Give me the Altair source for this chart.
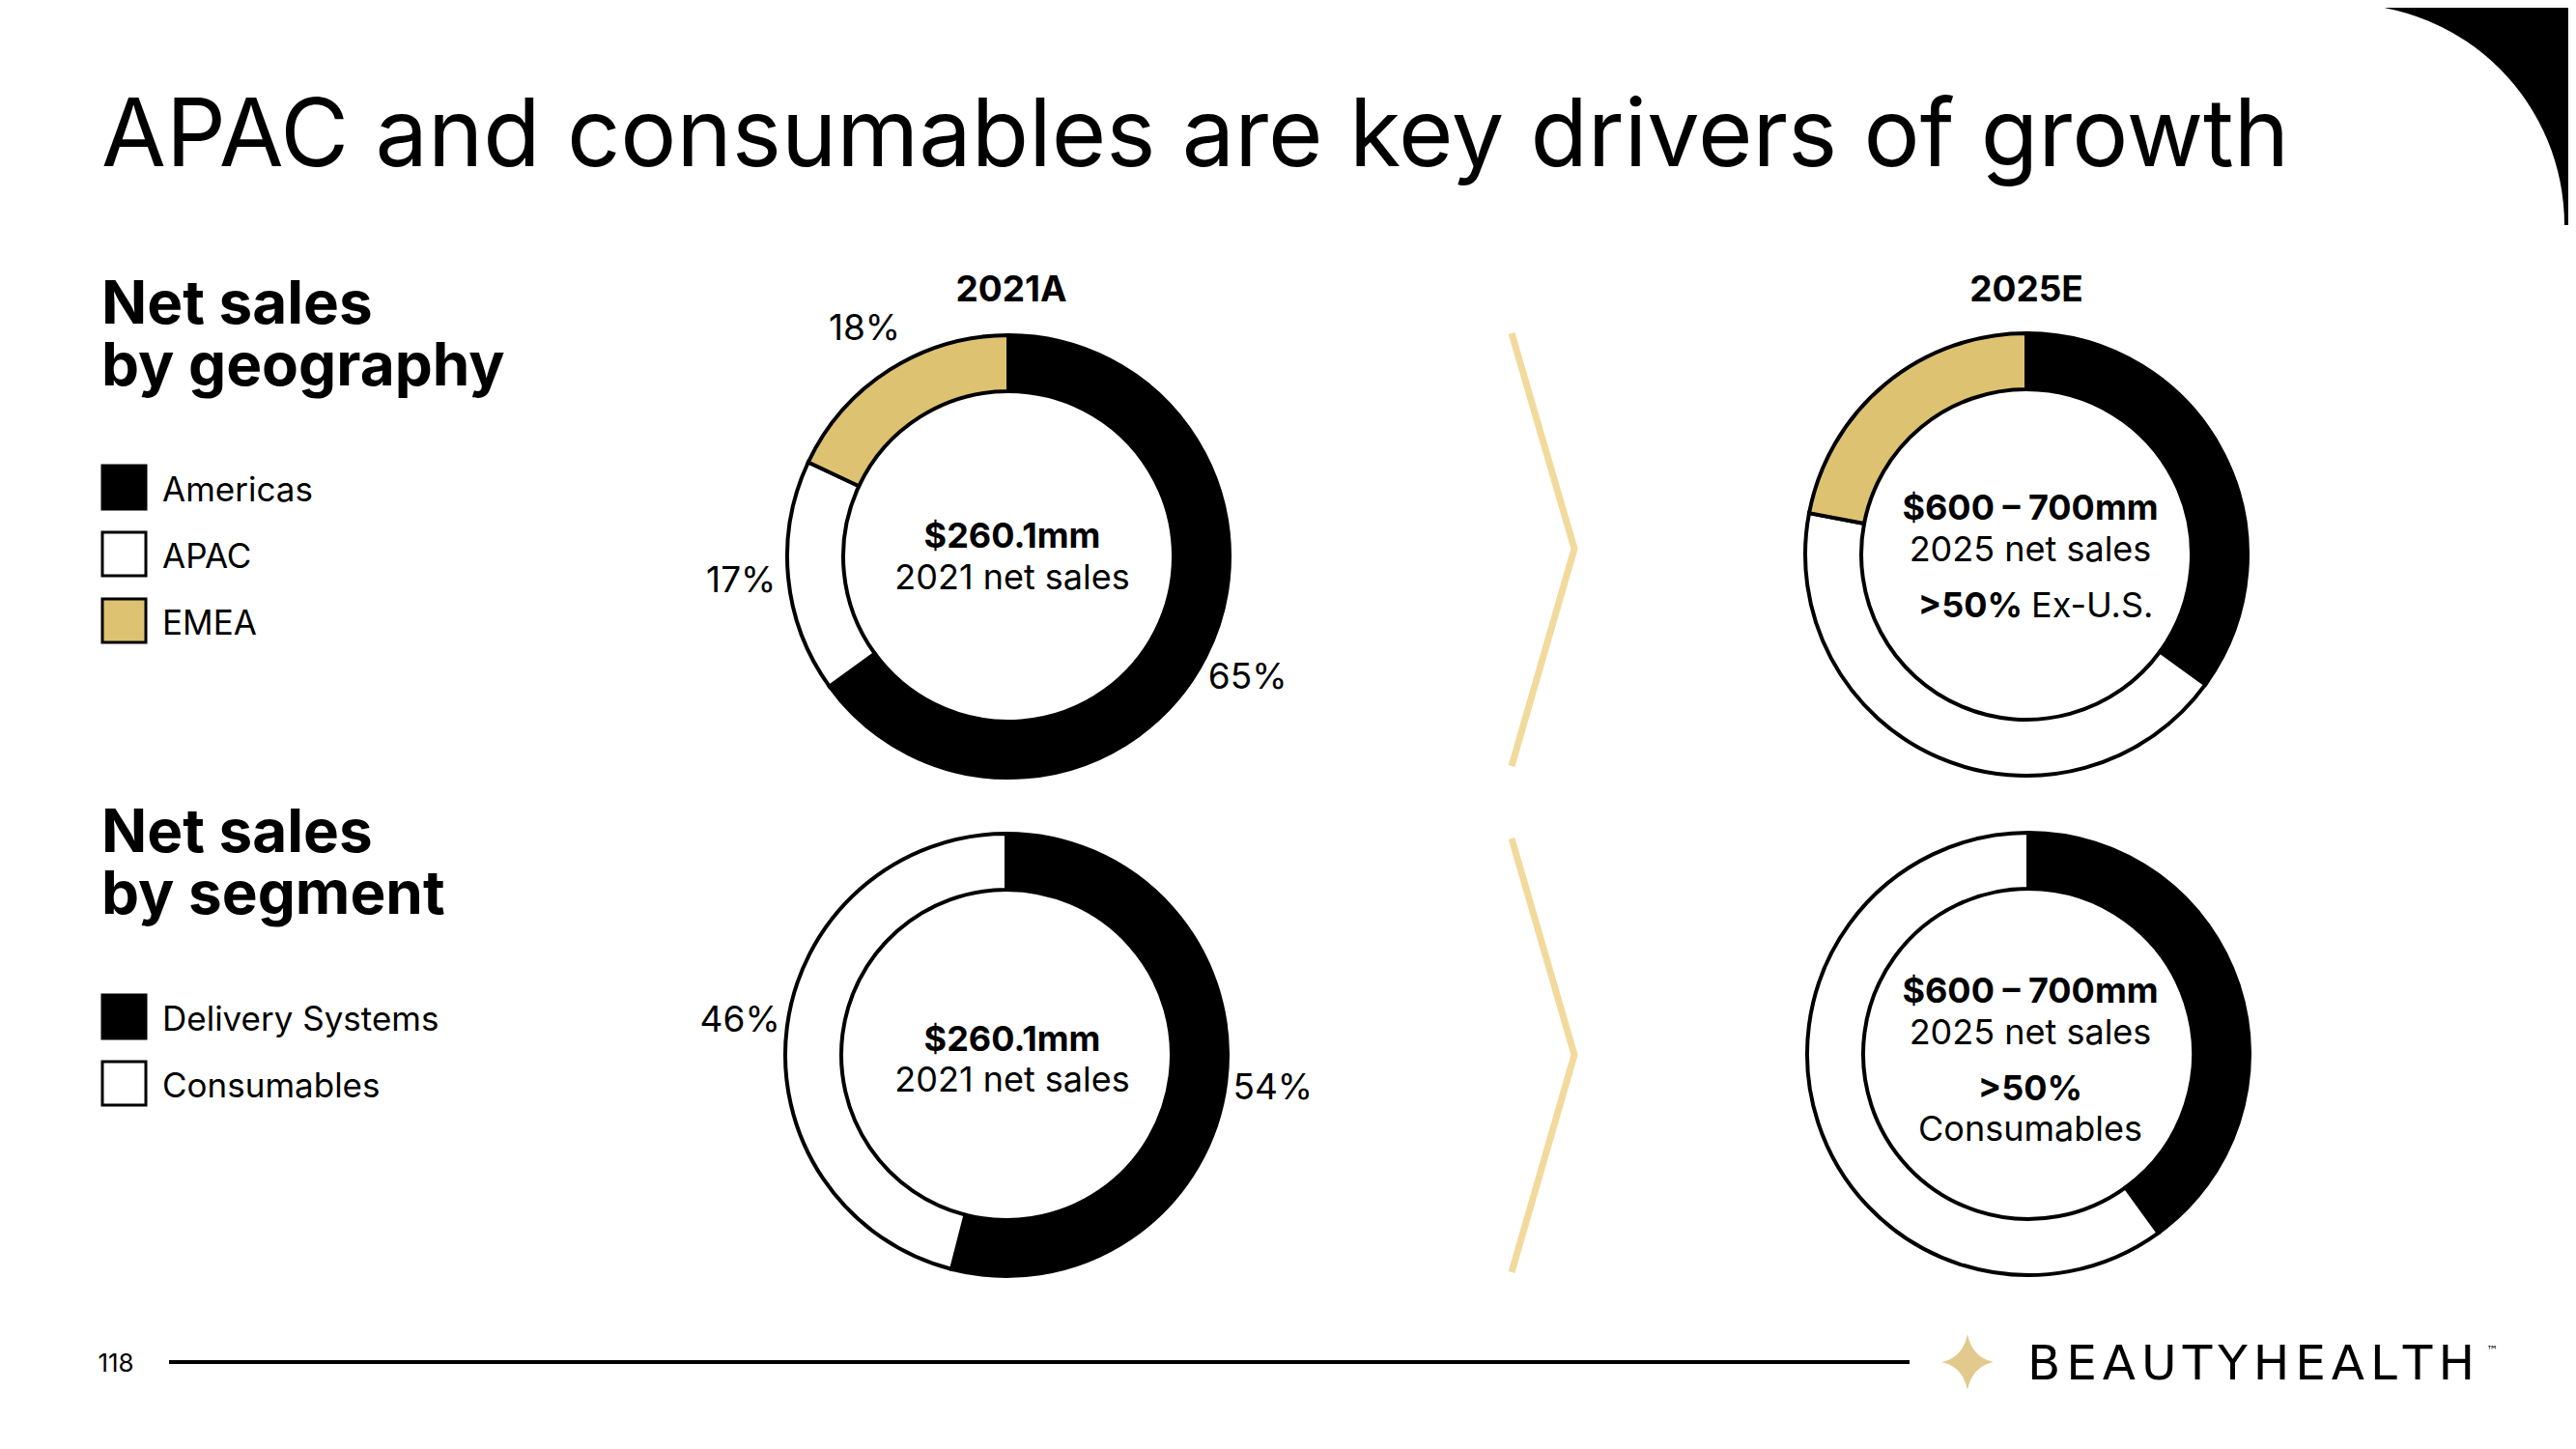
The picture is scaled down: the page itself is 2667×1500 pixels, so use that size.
import math
import altair as alt
import pandas as pd

# ---------------- data ----------------
TITLE = "APAC and consumables are key drivers of growth"
PERIODS = ["2021A", "2025E"]

GEO_CATS = ["Americas", "APAC", "EMEA"]
GEO_2021 = [65, 17, 18]
GEO_2025 = [35, 43, 22]
GEO_2021_LABELS = ["65%", "17%", "18%"]

SEG_CATS = ["Delivery Systems", "Consumables"]
SEG_2021 = [54, 46]
SEG_2025 = [40, 60]
SEG_2021_LABELS = ["54%", "46%"]

SECTION_GEO = ["Net sales", "by geography"]
SECTION_SEG = ["Net sales", "by segment"]

CENTER_2021 = ["$260.1mm", "2021 net sales"]
CENTER_2025 = ["$600 \u2013 700mm", "2025 net sales"]
NOTE_2025_GEO = [">50%", "Ex-U.S."]
NOTE_2025_SEG = [">50%", "Consumables"]

PAGE_NUMBER = "118"
BRAND = "BEAUTYHEALTH"
TM = "\u2122"

# ---------------- layout / style ----------------
M = 8                      # page margin
W, H = 2651, 1480          # drawing area
FONT = "Inter"
BLACK = "#000000"
WHITE = "#FFFFFF"
GOLD = "#DDC272"
CHEVRON = "#F2DA9D"
STAR = "#E2C98C"

XS = alt.Scale(domain=[M, M + W], range=[0, W], zero=False, nice=False)
YS = alt.Scale(domain=[M, M + H], range=[0, H], zero=False, nice=False)
COLOR = alt.Scale(domain=GEO_CATS + SEG_CATS, range=[BLACK, WHITE, GOLD, BLACK, WHITE])

R_OUT, R_IN, R_LABEL = 229, 171, 278


def X(f="x"):
    return alt.X(f"{f}:Q", scale=XS, axis=None)


def Y(f="y"):
    return alt.Y(f"{f}:Q", scale=YS, axis=None)


def text_layer(rows, size, weight="normal", align="left", baseline="middle", color=BLACK, font=FONT, **kw):
    df = pd.DataFrame(rows, columns=["text", "x", "y"])
    return alt.Chart(df).mark_text(
        font=font, fontSize=size, fontWeight=weight, align=align, baseline=baseline, color=color, **kw
    ).encode(x=X(), y=Y(), text="text:N")


layers = []

# top-right corner decoration: black corner minus a white quarter disc
corner_cx, corner_cy, corner_r = 2426, 233, 229
layers.append(
    alt.Chart(pd.DataFrame({"x": [corner_cx], "x2": [M + W], "y": [M], "y2": [corner_cy]}))
    .mark_rect(color=BLACK)
    .encode(x=X(), x2="x2:Q", y=Y(), y2="y2:Q")
)
layers.append(
    alt.Chart(pd.DataFrame({"k": [0]}))
    .mark_arc(theta=0, theta2=math.pi / 2, innerRadius=0, outerRadius=corner_r, color=WHITE)
    .encode(x=alt.value(corner_cx - M), y=alt.value(corner_cy - M))
)

# title
layers.append(text_layer([(TITLE, 105, 172)], 97, baseline="alphabetic"))

# section headings (two lines each)
layers.append(text_layer([("\n".join(SECTION_GEO), 105, 335), ("\n".join(SECTION_SEG), 105, 882)],
                         62, weight="bold", baseline="alphabetic", lineBreak="\n", lineHeight=64))


# legends
def legend(cats, top0, step=69, size=45):
    df = pd.DataFrame({"cat": cats})
    df["y"] = [top0 + i * step for i in range(len(cats))]
    df["y2"] = df["y"] + size
    df["x"] = 106
    df["x2"] = 106 + size
    df["tx"] = 168
    df["ty"] = df["y"] + size / 2 + 3
    boxes = alt.Chart(df).mark_rect(stroke=BLACK, strokeWidth=3).encode(
        x=X(), x2="x2:Q", y=Y(), y2="y2:Q",
        color=alt.Color("cat:N", scale=COLOR, legend=None))
    labels = alt.Chart(df).mark_text(font=FONT, fontSize=35, align="left", baseline="middle", color=BLACK).encode(
        x=X("tx"), y=Y("ty"), text="cat:N")
    return [boxes, labels]


layers += legend(GEO_CATS, 482)
layers += legend(SEG_CATS, 1030)

# period headers
layers.append(text_layer([(PERIODS[0], 1047, 301), (PERIODS[1], 2098, 301)], 37, weight="bold", align="center"))

# chevrons
chev = pd.DataFrame({
    "grp": ["a"] * 3 + ["b"] * 3,
    "i": [0, 1, 2] * 2,
    "x": [1565, 1630, 1565, 1565, 1630, 1565],
    "y": [345, 568, 793, 868, 1092, 1317],
})
layers.append(alt.Chart(chev).mark_line(color=CHEVRON, strokeWidth=7, strokeJoin="miter", strokeCap="butt").encode(
    x=X(), y=Y(), detail="grp:N", order="i:Q"))


# donuts
def donut(cats, vals, labels, cx, cy):
    df = pd.DataFrame({"cat": cats, "share": vals, "idx": list(range(len(cats)))})
    if labels:
        df["label"] = labels
    base = alt.Chart(df).encode(
        theta=alt.Theta("share:Q", stack=True),
        order=alt.Order("idx:Q"),
        x=alt.value(cx - M), y=alt.value(cy - M))
    out = [base.mark_arc(innerRadius=R_IN, outerRadius=R_OUT, stroke=BLACK, strokeWidth=4).encode(
        color=alt.Color("cat:N", scale=COLOR, legend=None))]
    if labels:
        out.append(base.mark_text(radius=R_LABEL, font=FONT, fontSize=37, color=BLACK).encode(text="label:N"))
    return out


layers += donut(GEO_CATS, GEO_2021, GEO_2021_LABELS, 1044, 576)
layers += donut(GEO_CATS, GEO_2025, None, 2098, 574)
layers += donut(SEG_CATS, SEG_2021, SEG_2021_LABELS, 1042, 1092)
layers += donut(SEG_CATS, SEG_2025, None, 2100, 1091)

# centre texts
layers.append(text_layer([(CENTER_2021[0], 1048, 556), (CENTER_2021[0], 1048, 1077),
                          (CENTER_2025[0], 2102, 527), (CENTER_2025[0], 2102, 1027),
                          (NOTE_2025_SEG[0], 2102, 1128)],
                         36, weight="bold", align="center"))
layers.append(text_layer([(CENTER_2021[1], 1048, 599), (CENTER_2021[1], 1048, 1119),
                          (CENTER_2025[1], 2102, 570), (CENTER_2025[1], 2102, 1070),
                          (NOTE_2025_SEG[1], 2102, 1170)],
                         36, align="center"))
layers.append(text_layer([(NOTE_2025_GEO[0], 2094, 628)], 36, weight="bold", align="right"))
layers.append(text_layer([(NOTE_2025_GEO[1], 2103, 628)], 36, align="left"))

# footer
layers.append(text_layer([(PAGE_NUMBER, 120, 1412)], 26, align="center"))
layers.append(alt.Chart(pd.DataFrame({"x": [175], "x2": [1977], "y": [1410]}))
              .mark_rule(color=BLACK, strokeWidth=4).encode(x=X(), x2="x2:Q", y=Y()))
STAR_PATH = ("M0,-1 Q0.17,-0.17 0.93,0 Q0.17,0.17 0,1 Q-0.17,0.17 -0.93,0 Q-0.17,-0.17 0,-1 Z")
layers.append(alt.Chart(pd.DataFrame({"x": [2037], "y": [1410]}))
              .mark_point(shape=STAR_PATH, size=3300, filled=True, fill=STAR, strokeWidth=0, opacity=1)
              .encode(x=X(), y=Y()))

# brand word-mark, letter-spaced (advance widths of DejaVu Sans capitals, in em)
ADV = {"B": 0.686, "E": 0.632, "A": 0.684, "U": 0.732, "T": 0.611, "Y": 0.611, "H": 0.752, "L": 0.557}
BRAND_FS, BRAND_X0, BRAND_X1 = 50, 2099, 2562
natural = sum(ADV[c] for c in BRAND) * BRAND_FS
track = (BRAND_X1 - BRAND_X0 - natural) / (len(BRAND) - 1)
rows, cur = [], BRAND_X0
for c in BRAND:
    rows.append((c, cur, 1428))
    cur += ADV[c] * BRAND_FS + track
layers.append(text_layer(rows, BRAND_FS, baseline="alphabetic", font="DejaVu Sans"))
layers.append(text_layer([(TM, 2574, 1398)], 12, font="DejaVu Sans"))

chart = alt.layer(*layers).properties(
    width=W, height=H, padding=0, autosize="none", background="white"
).configure_view(stroke=None)

chart.save("out.html", embed_options={"renderer": "svg", "actions": False})
